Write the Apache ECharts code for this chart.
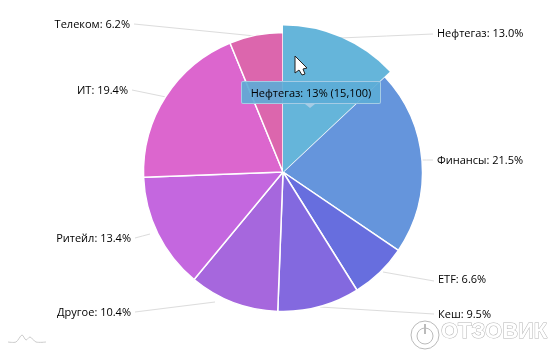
<!DOCTYPE html>
<html><head><meta charset="utf-8">
<style>html,body{margin:0;padding:0;background:#fff}#c{width:560px;height:359px}</style>
<script src="https://cdn.jsdelivr.net/npm/echarts@6/dist/echarts.min.js"></script>
</head><body><div id="c"></div>
<script>
const categories = ['Нефтегаз','Финансы','ETF','Кеш','Другое','Ритейл','ИТ','Телеком'];
const shares = [13.0,21.5,6.6,9.5,10.4,13.4,19.4,6.2];
const colors = ['#65B5DA','#6595DC','#676EDE','#8369DF','#A667DD','#C467DF','#DC66CE','#DC66AD'];
const tipName = 'Нефтегаз', tipShare = '13%', tipAmount = '15,100';
// label anchor [x, y, align], leader line [x1,y1,x2,y2]
const labelPos = [[437,34,'left'],[437,161,'left'],[438,280,'left'],[438,315,'left'],[131,313,'right'],[131,239,'right'],[128,91,'right'],[130,25,'right']];
const leaders = [[433,34,340,38],[433,160,420,160],[434,281,383,272],[434,314,320,307],[135,312,215,302],[135,238,150,234],[132,90,166,97],[134,24,255,36]];

const chart = echarts.init(document.getElementById('c'),null,{renderer:'canvas'});
chart.setOption({
  animation:false,
  backgroundColor:'#fff',
  tooltip:{
    trigger:'item', alwaysShowContent:true, transitionDuration:0, showDelay:0,
    position:[241,81],
    padding:0, borderWidth:0, backgroundColor:'transparent',
    extraCssText:'box-shadow:none;overflow:visible;',
    formatter:()=>`<div style="position:relative;box-sizing:border-box;width:140px;height:23px;text-align:center;background:rgba(92,172,214,.9);border:1px solid rgba(170,205,230,.95);border-radius:2px;color:#000;font:11px 'Open Sans',sans-serif;line-height:21px">${tipName}: ${tipShare} (${tipAmount})<div style="position:absolute;left:63px;top:22px;width:0;height:0;border-left:5px solid transparent;border-right:5px solid transparent;border-top:4px solid rgba(170,205,230,.95)"></div></div>`
  },
  series:[{
    type:'pie', center:[283,172], radius:[0,139.5], startAngle:90, clockwise:true,
    minAngle:0, avoidLabelOverlap:false,
    data:categories.map((n,i)=>({name:n,value:shares[i],itemStyle:{color:colors[i]},emphasis:{itemStyle:{color:colors[i]}}})),
    itemStyle:{borderColor:'#fff',borderWidth:1.5},
    emphasis:{scale:true,scaleSize:7,focus:'none',itemStyle:{borderWidth:0},label:{show:true},labelLine:{show:true}},
    label:{show:true,formatter:p=>`${p.name}: ${p.value.toFixed(1)}%`,color:'#000',fontSize:11,fontFamily:'Open Sans'},
    labelLine:{show:true,lineStyle:{color:'#dcdcdc',width:1}},
    labelLayout:p=>{const a=labelPos[p.dataIndex],l=leaders[p.dataIndex];
      return {x:a[0],y:a[1],align:a[2],verticalAlign:'middle',labelLinePoints:[[l[0],l[1]],[(l[0]+l[2])/2,(l[1]+l[3])/2],[l[2],l[3]]]};}
  }],
  graphic:[
    {type:'polygon',z:50,silent:true,shape:{points:[[295,56],[295,73],[299,70],[302,75],[305,74],[303,69],[307,68]]},style:{fill:'#fff',stroke:'#222',lineWidth:1}},
    {type:'polyline',silent:true,shape:{points:[[8,342],[16,342],[22,335],[26,340],[30,337],[36,342],[46,342]],smooth:0.3},style:{fill:'none',stroke:'#ccc',lineWidth:1}},
    {type:'circle',silent:true,shape:{cx:425,cy:335,r:14},style:{fill:'none',stroke:'#bbb',lineWidth:1}},
    {type:'circle',silent:true,shape:{cx:425,cy:336,r:8},style:{fill:'none',stroke:'#bbb',lineWidth:1}},
    {type:'line',silent:true,shape:{x1:425,y1:324,x2:425,y2:334},style:{stroke:'#bbb',lineWidth:2}},
    {type:'text',silent:true,x:441,y:321,style:{text:'ОТЗОВИК',font:'bold 22px "Liberation Sans"',fill:'#fff',stroke:'#b5b5b5',lineWidth:1}}
  ]
});
chart.dispatchAction({type:'highlight',seriesIndex:0,dataIndex:0});
chart.dispatchAction({type:'showTip',seriesIndex:0,dataIndex:0});
</script></body></html>
